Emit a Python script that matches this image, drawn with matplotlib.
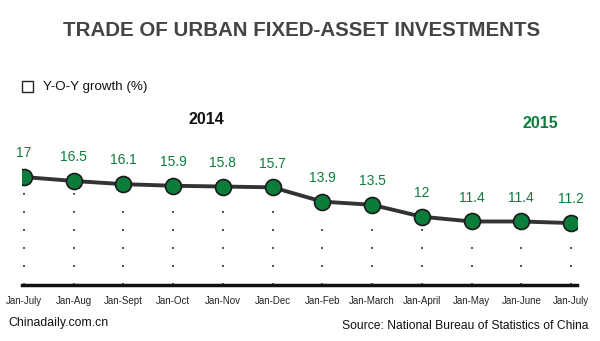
import matplotlib
matplotlib.use("Agg")
import matplotlib.pyplot as plt
from matplotlib.patches import Rectangle

periods = ["Jan-July", "Jan-Aug", "Jan-Sept", "Jan-Oct", "Jan-Nov", "Jan-Dec",
           "Jan-Feb", "Jan-March", "Jan-April", "Jan-May", "Jan-June", "Jan-July"]
growth = [17, 16.5, 16.1, 15.9, 15.8, 15.7, 13.9, 13.5, 12, 11.4, 11.4, 11.2]
value_labels = ["17", "16.5", "16.1", "15.9", "15.8", "15.7",
                "13.9", "13.5", "12", "11.4", "11.4", "11.2"]

GREEN = "#0b7d3b"
DARK = "#333333"

plt.rcParams["font.family"] = ["Liberation Sans", "DejaVu Sans"]

W, H = 600, 341
fig = plt.figure(figsize=(W / 100, H / 100), dpi=100)

# axes box in pixel space of the reference
ax_left, ax_right, ax_bottom, ax_top = 22, 577, 285, 100
ax = fig.add_axes([ax_left / W, 1 - ax_bottom / H,
                   (ax_right - ax_left) / W, (ax_bottom - ax_top) / H])

x = list(range(len(growth)))
ax.set_xlim(-0.04, len(growth) - 1 + 0.12)
ax.set_ylim(3.4, 26.7)

# dotted drop lines
for xi, yi in zip(x, growth):
    ax.plot([xi, xi], [3.4, yi - 1.5], color=DARK, lw=1.3,
            linestyle=(0, (1, 9)), zorder=1)

ax.plot(x, growth, color=DARK, lw=2.8, zorder=2)
ax.plot(x, growth, "o", ms=11.5, mfc=GREEN, mec="#1a1a1a", mew=1.2, zorder=3)

for xi, yi, lab in zip(x, growth, value_labels):
    ax.annotate(lab, (xi, yi), xytext=(0, 12), textcoords="offset points",
                ha="center", va="bottom", color=GREEN, fontsize=10)

for s in ["top", "right", "left"]:
    ax.spines[s].set_visible(False)
ax.spines["bottom"].set_linewidth(2.5)
ax.spines["bottom"].set_color("#111111")
ax.set_yticks([])
ax.set_xticks(x)
ax.set_xticklabels(periods, fontsize=7, color="#222222")
ax.tick_params(axis="x", length=0, pad=8)

# title
fig.text(0.502, 1 - 30 / H, "TRADE OF URBAN FIXED-ASSET INVESTMENTS",
         ha="center", va="center", fontsize=14.8, fontweight="bold", color="#444444")

# legend
fig.patches.append(Rectangle((22 / W, 1 - 92 / H), 11 / W, 11 / H,
                             transform=fig.transFigure, fill=False,
                             edgecolor="#222222", lw=1))
fig.text(43 / W, 1 - 87 / H, "Y-O-Y growth (%)", ha="left", va="center",
         fontsize=9.6, color="#111111")

fig.text(206 / W, 1 - 119 / H, "2014", ha="center", va="center",
         fontsize=11.5, fontweight="bold", color="#111111")
fig.text(540 / W, 1 - 124 / H, "2015", ha="center", va="center",
         fontsize=11.5, fontweight="bold", color=GREEN)

fig.text(8 / W, 1 - 323 / H, "Chinadaily.com.cn", ha="left", va="center",
         fontsize=8.8, color="#111111")
fig.text(589 / W, 1 - 326 / H, "Source: National Bureau of Statistics of China",
         ha="right", va="center", fontsize=8.7, color="#111111")

fig.savefig("out.png", dpi=100)
